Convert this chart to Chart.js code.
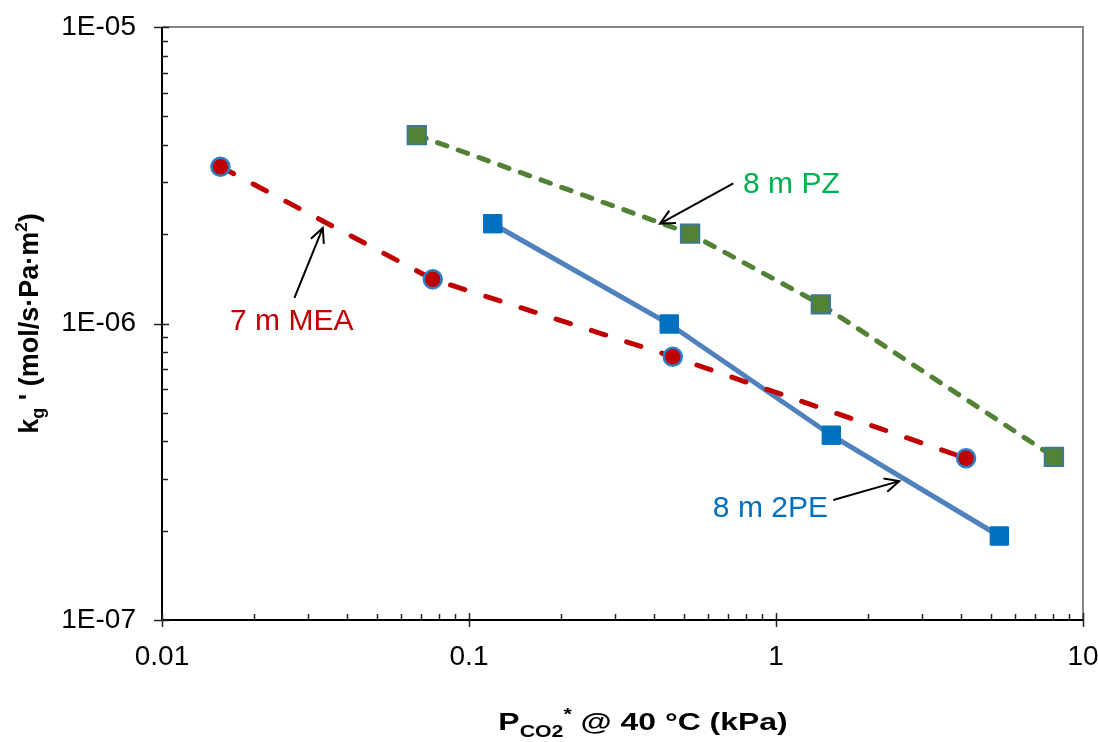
<!DOCTYPE html>
<html>
<head>
<meta charset="utf-8">
<title>kg' vs PCO2*</title>
<script src="https://cdn.jsdelivr.net/npm/chart.js@4.4.1/dist/chart.umd.min.js"></script>
<style>
  html, body { margin: 0; padding: 0; background: #fff; }
  #wrap { width: 1098px; height: 742px; }
</style>
</head>
<body>
<div id="wrap"><canvas id="kg-chart" width="1098" height="742"></canvas></div>
<script>
// values (x in kPa, y in mol/s·Pa·m²)
const meaX = [0.0155, 0.0762, 0.461, 4.16];
const meaY = [3.38e-6, 1.41e-6, 7.73e-7, 3.51e-7];
const pzX = [0.0676, 0.525, 1.40, 8.04];
const pzY = [4.32e-6, 2.01e-6, 1.16e-6, 3.55e-7];
const peX = [0.1195, 0.449, 1.514, 5.34];
const peY = [2.17e-6, 9.96e-7, 4.2e-7, 1.92e-7];

const xTickValues = [0.01, 0.1, 1, 10];
const xTickLabels = ["0.01", "0.1", "1", "10"];
const yTickValues = [1e-7, 1e-6, 1e-5];
const yTickLabels = ["1E-07", "1E-06", "1E-05"];

// callout labels: text, where the text sits and where the arrow points (data units)
const calloutText = ["7 m MEA", "8 m PZ", "8 m 2PE"];
const calloutColor = ["#C00000", "#00B050", "#0070C0"];
const calloutAlign = ["left", "left", "right"];
const calloutTextAt = [[0.01666, 9.51e-7], [0.781, 2.76e-6], [1.476, 2.23e-7]];
const calloutTail = [[0.0270, 1.22e-6], [0.726, 2.97e-6], [1.537, 2.54e-7]];
const calloutHead = [[0.0334, 2.10e-6], [0.419, 2.17e-6], [2.52, 2.94e-7]];

const FONT = "'Liberation Sans', Arial, sans-serif";

function toPoints(xs, ys) {
  return xs.map((x, i) => ({ x, y: ys[i] }));
}

function drawRich(ctx, parts, x, y, stretch) {
  // parts: [text, size, dy]; drawn centred on x, baseline y
  let total = 0;
  parts.forEach(([t, size]) => {
    ctx.font = "bold " + size + "px " + FONT;
    total += ctx.measureText(t).width;
  });
  ctx.save();
  ctx.translate(x, y);
  ctx.scale(stretch, 1);
  let cx = -total / 2;
  ctx.textBaseline = "alphabetic";
  ctx.textAlign = "left";
  parts.forEach(([t, size, dy]) => {
    ctx.font = "bold " + size + "px " + FONT;
    ctx.fillText(t, cx, dy || 0);
    cx += ctx.measureText(t).width;
  });
  ctx.restore();
}

function drawArrow(ctx, x1, y1, x2, y2) {
  const ang = Math.atan2(y2 - y1, x2 - x1);
  const len = 16;
  const spread = 0.45;
  ctx.beginPath();
  ctx.moveTo(x1, y1);
  ctx.lineTo(x2, y2);
  ctx.moveTo(x2 - len * Math.cos(ang - spread), y2 - len * Math.sin(ang - spread));
  ctx.lineTo(x2, y2);
  ctx.lineTo(x2 - len * Math.cos(ang + spread), y2 - len * Math.sin(ang + spread));
  ctx.stroke();
}

function decadeTicks(min, max) {
  const out = [];
  for (let e = Math.round(Math.log10(min)); e < Math.round(Math.log10(max)); e++) {
    for (let m = 2; m <= 9; m++) out.push(m * Math.pow(10, e));
  }
  return out;
}

const frame = {
  id: "frame",
  beforeDatasetsDraw(chart) {
    const { ctx, chartArea: a, scales } = chart;
    ctx.save();
    ctx.lineWidth = 2;
    ctx.strokeStyle = "#868686";
    ctx.beginPath();
    ctx.moveTo(a.left, a.top);
    ctx.lineTo(a.right, a.top);
    ctx.lineTo(a.right, a.bottom);
    ctx.stroke();

    ctx.strokeStyle = "#000";
    ctx.beginPath();
    ctx.moveTo(a.left, a.top);
    ctx.lineTo(a.left, a.bottom);
    ctx.lineTo(a.right, a.bottom);
    ctx.stroke();

    ctx.lineWidth = 1.5;
    ctx.strokeStyle = "#222";
    ctx.beginPath();
    decadeTicks(scales.x.min, scales.x.max).forEach((v) => {
      const px = Math.round(scales.x.getPixelForValue(v)) + 0.5;
      ctx.moveTo(px, a.bottom);
      ctx.lineTo(px, a.bottom - 6);
    });
    xTickValues.forEach((v) => {
      const px = Math.round(scales.x.getPixelForValue(v)) + 0.5;
      ctx.moveTo(px, a.bottom - 7);
      ctx.lineTo(px, a.bottom + 7);
    });
    decadeTicks(scales.y.min, scales.y.max).forEach((v) => {
      const py = Math.round(scales.y.getPixelForValue(v)) + 0.5;
      ctx.moveTo(a.left, py);
      ctx.lineTo(a.left + 6, py);
    });
    yTickValues.forEach((v) => {
      const py = Math.round(scales.y.getPixelForValue(v)) + 0.5;
      ctx.moveTo(a.left - 8, py);
      ctx.lineTo(a.left + 7, py);
    });
    ctx.stroke();
    ctx.restore();
  },
  afterDraw(chart) {
    const { ctx, chartArea: a, scales } = chart;
    ctx.save();
    ctx.fillStyle = "#000";
    drawRich(ctx, [
      ["P", 24, 0],
      ["CO2", 16, 7],
      ["*", 16, -10],
      [" @ 40 °C (kPa)", 24, 0],
    ], 643, 730, 1.33);

    ctx.save();
    ctx.translate(38, (a.top + a.bottom) / 2);
    ctx.rotate(-Math.PI / 2);
    drawRich(ctx, [
      ["k", 27, 0],
      ["g", 18, 6],
      [" ' (mol/s·Pa·m", 27, 0],
      ["2", 17, -11],
      [")", 27, 0],
    ], 0, 0, 1);
    ctx.restore();

    ctx.lineWidth = 2;
    ctx.strokeStyle = "#000";
    calloutText.forEach((t, i) => {
      const tx = scales.x.getPixelForValue(calloutTail[i][0]);
      const ty = scales.y.getPixelForValue(calloutTail[i][1]);
      const hx = scales.x.getPixelForValue(calloutHead[i][0]);
      const hy = scales.y.getPixelForValue(calloutHead[i][1]);
      drawArrow(ctx, tx, ty, hx, hy);
      ctx.font = "30px " + FONT;
      ctx.fillStyle = calloutColor[i];
      ctx.textAlign = calloutAlign[i];
      ctx.textBaseline = "alphabetic";
      ctx.fillText(t,
        scales.x.getPixelForValue(calloutTextAt[i][0]),
        scales.y.getPixelForValue(calloutTextAt[i][1]));
    });
    ctx.restore();
  },
};

const ctx = document.getElementById("kg-chart").getContext("2d");
new Chart(ctx, {
  type: "scatter",
  data: {
    datasets: [
      {
        label: "7 m MEA",
        data: toPoints(meaX, meaY),
        showLine: true,
        borderColor: "#C00000",
        borderWidth: 5,
        borderDash: [15, 22],
        borderCapStyle: "round",
        pointStyle: "circle",
        pointRadius: 9,
        pointBackgroundColor: "#C00000",
        pointBorderColor: "#2E7FC9",
        pointBorderWidth: 2.5,
      },
      {
        label: "8 m PZ",
        data: toPoints(pzX, pzY),
        showLine: true,
        borderColor: "#538135",
        borderWidth: 5,
        borderDash: [10, 12],
        borderCapStyle: "round",
        pointStyle: "rect",
        pointRadius: 13,
        pointBackgroundColor: "#538135",
        pointBorderColor: "#3C7A93",
        pointBorderWidth: 2,
      },
      {
        label: "8 m 2PE",
        data: toPoints(peX, peY),
        showLine: true,
        borderColor: "#4F81BD",
        borderWidth: 5,
        pointStyle: "rect",
        pointRadius: 13,
        pointBackgroundColor: "#0070C0",
        pointBorderColor: "#0070C0",
        pointBorderWidth: 1,
      },
    ],
  },
  options: {
    responsive: false,
    animation: false,
    devicePixelRatio: 1,
    layout: { padding: { left: 0, top: 27, right: 15, bottom: 0 } },
    plugins: {
      legend: { display: false },
      tooltip: { enabled: false },
    },
    scales: {
      x: {
        type: "logarithmic",
        min: 0.01,
        max: 10,
        afterBuildTicks: (scale) => {
          scale.ticks = xTickValues.map((v) => ({ value: v }));
        },
        afterFit: (scale) => {
          scale.height = 122;
          scale.paddingLeft = 0;
          scale.paddingRight = 0;
        },
        grid: { display: false, drawTicks: false },
        border: { display: false },
        ticks: {
          autoSkip: false,
          maxRotation: 0,
          padding: 20,
          color: "#000",
          font: { family: FONT, size: 28 },
          callback: (value, index) => xTickLabels[index],
        },
      },
      y: {
        type: "logarithmic",
        min: 1e-7,
        max: 1e-5,
        afterBuildTicks: (scale) => {
          scale.ticks = yTickValues.map((v) => ({ value: v }));
        },
        afterFit: (scale) => {
          scale.width = 162;
          scale.paddingTop = 0;
          scale.paddingBottom = 0;
        },
        grid: { display: false, drawTicks: false },
        border: { display: false },
        ticks: {
          autoSkip: false,
          padding: 26,
          color: "#000",
          font: { family: FONT, size: 28 },
          callback: (value, index) => yTickLabels[index],
        },
      },
    },
  },
  plugins: [frame],
});
</script>
</body>
</html>
